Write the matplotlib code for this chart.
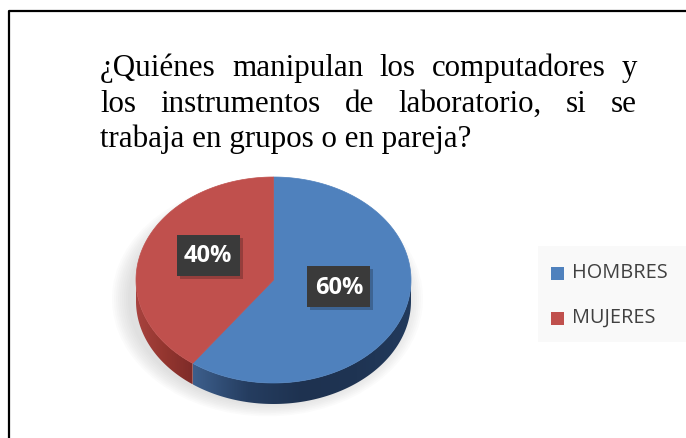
import matplotlib
matplotlib.use('Agg')
import matplotlib.pyplot as plt
import numpy as np
from matplotlib.patches import Polygon, Rectangle, Ellipse
from matplotlib.colors import LinearSegmentedColormap

# chart content
title_lines = ["¿Quiénes manipulan los computadores y",
               "los instrumentos de laboratorio, si se",
               "trabaja en grupos o en pareja?"]
categories = ["HOMBRES", "MUJERES"]
values = [60, 40]
top_colors = ["#4F81BD", "#C0504D"]
side_colors = [["#3D5F8C", "#253D60", "#1E3250", "#1F3453", "#223A5C"],
               ["#A8433F", "#94362F", "#7E2B29"]]

W, H = 686, 438
fig = plt.figure(figsize=(W / 100, H / 100), dpi=100)
ax = fig.add_axes([0, 0, 1, 1])
ax.set_xlim(0, W)
ax.set_ylim(H, 0)
ax.axis('off')

# outer frame
ax.plot([9, 9, W], [H, 11, 11], color='black', lw=1.6, solid_capstyle='butt')

# title, justified like the source document
renderer = fig.canvas.get_renderer()
title_font = dict(family='Liberation Serif', size=22.3, color='black')
left, right = 100, 637
baselines = [76, 112, 147]
for i, line in enumerate(title_lines):
    if i == len(title_lines) - 1:
        ax.text(left, baselines[i], line, va='baseline', ha='left', **title_font)
        continue
    words = line.split(' ')
    texts = [ax.text(0, baselines[i], w, va='baseline', ha='left', **title_font)
             for w in words]
    widths = [t.get_window_extent(renderer).width for t in texts]
    gap = (right - left - sum(widths)) / (len(words) - 1)
    x = left
    for t, w in zip(texts, widths):
        t.set_x(x)
        x += w + gap

# 3D-ish pie
cx, cy, rx, ry, depth = 273.5, 280, 137.5, 103, 21


def pt(t, dz=0):
    r = np.radians(t)
    return cx + rx * np.cos(r), cy - ry * np.sin(r) + dz


# soft shadow, kept below everything else
for k in range(18, 0, -2):
    ax.add_patch(Ellipse((cx - 6, cy + depth * 0.9), 2 * (rx + k), 2 * (ry + k * 0.8),
                         facecolor='#909090', alpha=0.03, lw=0, zorder=0.2))

total = float(sum(values))
start = 90.0
slices = []
for v in values:
    end = start - 360.0 * v / total
    slices.append((start, end))
    start = end

# side walls (front half only), filled with a left-to-right gradient
for (a0, a1), stops in zip(slices, side_colors):
    lo, hi = max(a1, -180), min(a0, 0)
    if lo >= hi:
        continue
    ts = np.linspace(lo, hi, 120)
    upper = [pt(t) for t in ts]
    lower = [pt(t, depth) for t in ts[::-1]]
    poly = Polygon(upper + lower, closed=True, facecolor='none', lw=0)
    ax.add_patch(poly)
    xs = [p[0] for p in upper]
    cmap = LinearSegmentedColormap.from_list('side', stops)
    grad = np.linspace(0, 1, 256).reshape(1, -1)
    im = ax.imshow(grad, cmap=cmap, aspect='auto', zorder=1,
                   extent=(min(xs), max(xs), cy + ry + depth + 2, cy - 2),
                   interpolation='bilinear')
    im.set_clip_path(poly)

# top faces
for (a0, a1), col in zip(slices, top_colors):
    ts = np.linspace(a0, a1, 200)
    pts = [(cx, cy)] + [pt(t) for t in ts]
    ax.add_patch(Polygon(pts, closed=True, facecolor=col, edgecolor=col,
                         lw=0.5, zorder=2))

ax.set_xlim(0, W)
ax.set_ylim(H, 0)

# data labels
for (a0, a1), v in zip(slices, values):
    mid = np.radians((a0 + a1) / 2)
    lx = cx + 0.5 * rx * np.cos(mid)
    ly = cy - 0.5 * ry * np.sin(mid) - 9
    bw, bh = 63, 41
    ax.add_patch(Rectangle((lx - bw / 2 + 3, ly - bh / 2 + 3), bw, bh,
                           facecolor='black', alpha=0.22, lw=0, zorder=3))
    ax.add_patch(Rectangle((lx - bw / 2, ly - bh / 2), bw, bh,
                           facecolor='#3A3A3A', lw=0, zorder=3))
    ax.text(lx, ly + 1, f"{v}%", ha='center', va='center', color='white',
            family='Open Sans', weight='bold', size=17, zorder=4)

# legend
ax.add_patch(Rectangle((538, 246), W - 538, 96, facecolor='#F9F9F9', lw=0))
for i, (name, col) in enumerate(zip(categories, top_colors)):
    ly = 273 + 45 * i
    ax.add_patch(Rectangle((551, ly - 6.5), 13, 13, facecolor=col, lw=0))
    ax.text(572, ly, name, ha='left', va='center', color='#404040',
            family='Open Sans', size=14.3)

fig.savefig('out.png', dpi=100)
